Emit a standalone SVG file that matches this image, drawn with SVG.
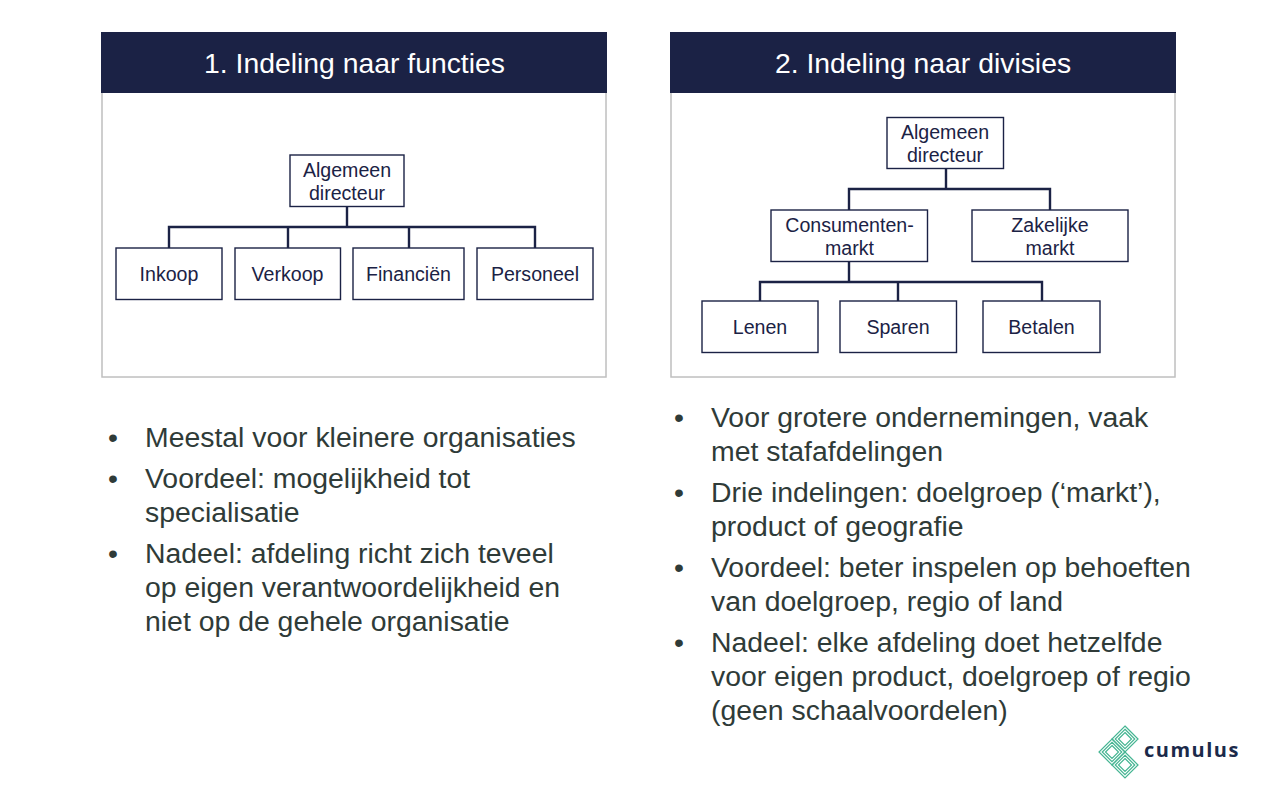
<svg xmlns="http://www.w3.org/2000/svg" width="1280" height="793" viewBox="0 0 1280 793">
<defs>
<g id="tile"><path class="lg" d="M0-13L13 0L0 13L-13 0Z M0-9.750L9.750 0L0 9.750L-9.750 0Z M0-6.500L6.500 0L0 6.500L-6.500 0Z"/></g>
</defs>
<style>
text{font-family:"Liberation Sans",Arial,sans-serif}
.panel{fill:#fff;stroke:#bfbfbf;stroke-width:1.5}
.hdr{fill:#1b2245}
.ht{fill:#fff;font-size:28.35px;text-anchor:middle}
.box{fill:#fff;stroke:#1b2245;stroke-width:1.4}
.bt{fill:#1b2245;font-size:19.6px;text-anchor:middle}
.con{fill:none;stroke:#1b2245;stroke-width:2.400}
.b{fill:#2f3b38;font-size:28.4px}
.lg{fill:none;stroke:#45b592;stroke-width:1.200}
</style>
<g id="panel1"><rect class="panel" x="102" y="33" width="504" height="344"/><rect class="hdr" x="101" y="32" width="506" height="61"/><text class="ht" x="354.500" y="73">1. Indeling naar functies</text></g>
<g id="panel2"><rect class="panel" x="671" y="33" width="504" height="344"/><rect class="hdr" x="670" y="32" width="506" height="61"/><text class="ht" x="923" y="73">2. Indeling naar divisies</text></g>
<g id="connectors">
<path class="con" d="M347 207V227M169 248V227H535V248M288 227V248M409 227V248"/>
<path class="con" d="M946 169V189M849 210V189H1050V210"/>
<path class="con" d="M849 262V282M760 301V282H1042V301M898 282V301"/>
</g>
<g id="n1"><rect class="box" x="290" y="155" width="114" height="51.500"/><text class="bt" x="347" y="177">Algemeen</text><text class="bt" x="347" y="200">directeur</text></g>
<g id="n2"><rect class="box" x="116" y="248" width="106" height="51.500"/><text class="bt" x="169" y="281">Inkoop</text></g>
<g id="n3"><rect class="box" x="235" y="248" width="105.500" height="51.500"/><text class="bt" x="287.500" y="281">Verkoop</text></g>
<g id="n4"><rect class="box" x="353" y="248" width="111" height="51.500"/><text class="bt" x="408.500" y="281">Financiën</text></g>
<g id="n5"><rect class="box" x="477" y="248" width="116" height="51.500"/><text class="bt" x="535" y="281">Personeel</text></g>
<g id="d1"><rect class="box" x="887" y="117.500" width="116.500" height="51"/><text class="bt" x="945" y="139">Algemeen</text><text class="bt" x="945" y="162">directeur</text></g>
<g id="d2"><rect class="box" x="771" y="210" width="156.500" height="51.500"/><text class="bt" x="849.500" y="232">Consumenten-</text><text class="bt" x="849.500" y="255">markt</text></g>
<g id="d3"><rect class="box" x="972" y="210" width="156" height="51.500"/><text class="bt" x="1050" y="232">Zakelijke</text><text class="bt" x="1050" y="255">markt</text></g>
<g id="d4"><rect class="box" x="702" y="301" width="116" height="51.500"/><text class="bt" x="760" y="334">Lenen</text></g>
<g id="d5"><rect class="box" x="840" y="301" width="116.500" height="51.500"/><text class="bt" x="898" y="334">Sparen</text></g>
<g id="d6"><rect class="box" x="983" y="301" width="117" height="51.500"/><text class="bt" x="1041.500" y="334">Betalen</text></g>
<g id="list1">
<text class="b" x="108" y="447">•</text><text class="b" x="145" y="447">Meestal voor kleinere organisaties</text>
<text class="b" x="108" y="488">•</text><text class="b" x="145" y="488">Voordeel: mogelijkheid tot</text>
<text class="b" x="145" y="522">specialisatie</text>
<text class="b" x="108" y="563">•</text><text class="b" x="145" y="563">Nadeel: afdeling richt zich teveel</text>
<text class="b" x="145" y="597">op eigen verantwoordelijkheid en</text>
<text class="b" x="145" y="631">niet op de gehele organisatie</text>
</g>
<g id="list2">
<text class="b" x="674" y="427">•</text><text class="b" x="711" y="427">Voor grotere ondernemingen, vaak</text>
<text class="b" x="711" y="461">met stafafdelingen</text>
<text class="b" x="674" y="502">•</text><text class="b" x="711" y="502">Drie indelingen: doelgroep (‘markt’),</text>
<text class="b" x="711" y="536">product of geografie</text>
<text class="b" x="674" y="577">•</text><text class="b" x="711" y="577">Voordeel: beter inspelen op behoeften</text>
<text class="b" x="711" y="611">van doelgroep, regio of land</text>
<text class="b" x="674" y="652">•</text><text class="b" x="711" y="652">Nadeel: elke afdeling doet hetzelfde</text>
<text class="b" x="711" y="686">voor eigen product, doelgroep of regio</text>
<text class="b" x="711" y="720">(geen schaalvoordelen)</text>
</g>
<g id="logo">
<use href="#tile" x="1125" y="739"/>
<use href="#tile" x="1112" y="752"/>
<use href="#tile" x="1125" y="765"/>
<text x="1144" y="757" style="font-family:'Open Sans',sans-serif;font-size:20px;font-weight:700;letter-spacing:1.500px;fill:#1b2a4a">cumulus</text>
</g>
</svg>
